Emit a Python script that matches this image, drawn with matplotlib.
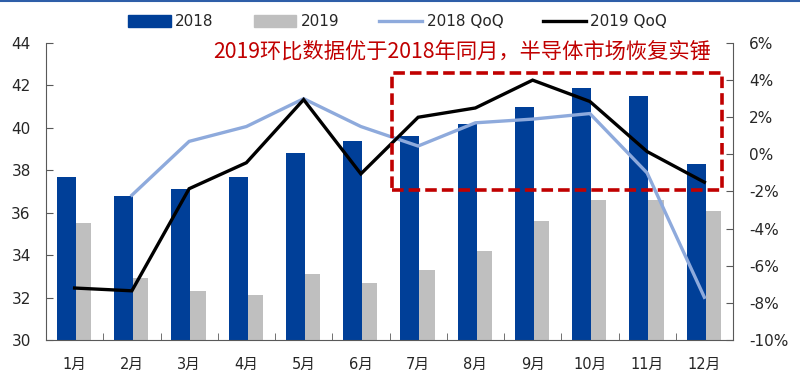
import matplotlib
matplotlib.use("Agg")
import matplotlib.pyplot as plt
import numpy as np
from matplotlib.patches import Rectangle
from matplotlib.lines import Line2D
from matplotlib.patches import Patch

plt.rcParams['font.family'] = ['DejaVu Sans', 'Noto Sans CJK SC']

months = ["1月", "2月", "3月", "4月", "5月", "6月", "7月", "8月", "9月", "10月", "11月", "12月"]
sales_2018 = [37.7, 36.8, 37.1, 37.7, 38.8, 39.4, 39.6, 40.2, 41.0, 41.9, 41.5, 38.3]
sales_2019 = [35.5, 32.9, 32.3, 32.1, 33.1, 32.7, 33.3, 34.2, 35.6, 36.6, 36.6, 36.1]
qoq_2018 = [np.nan, -2.2, 0.7, 1.5, 3.0, 1.5, 0.45, 1.7, 1.9, 2.2, -1.0, -7.7]
qoq_2019 = [-7.2, -7.35, -1.85, -0.45, 2.95, -1.05, 2.0, 2.5, 4.0, 2.85, 0.15, -1.5]
left_ticks = [30, 32, 34, 36, 38, 40, 42, 44]
right_ticks = [-10, -8, -6, -4, -2, 0, 2, 4, 6]
annotation = "2019环比数据优于2018年同月，半导体市场恢复实锤"

C_BLUE = "#003F98"
C_GRAY = "#BFBFBF"
C_LBLUE = "#8EAADC"
C_RED = "#C00000"
C_AX = "#595959"
C_TXT = "#262626"

fig = plt.figure(figsize=(8, 3.75), dpi=100)
ax = fig.add_axes([46/800, 1-340/375, (733-46)/800, (340-43)/375])
x = np.arange(len(months))

ax.bar(x - 0.31, sales_2018, width=0.33, align='edge', color=C_BLUE, zorder=2)
ax.bar(x + 0.02, sales_2019, width=0.27, align='edge', color=C_GRAY, zorder=2)
ax.set_ylim(30, 44)
ax.set_xlim(-0.5, 11.5)
ax.set_yticks(left_ticks)
ax.set_yticklabels([str(t) for t in left_ticks], fontsize=11, color=C_TXT)
ax.set_xticks(x)
ax.set_xticklabels(months, fontsize=10.5, color=C_TXT,
                   family=['DejaVu Sans', 'Noto Sans CJK SC'])
ax.set_xticks(np.arange(-0.5, 12, 1), minor=True)
ax.tick_params(axis='x', which='major', length=0, pad=12)
ax.tick_params(axis='x', which='minor', length=5, color=C_AX, direction='in')
ax.tick_params(axis='y', length=5, color=C_AX, direction='in', pad=11)
for s in ['top', 'right']:
    ax.spines[s].set_visible(False)
ax.spines['left'].set_color(C_AX)
ax.spines['bottom'].set_color(C_AX)

ax2 = ax.twinx()
ax2.plot(x, qoq_2018, color=C_LBLUE, lw=2.4, zorder=3, solid_joinstyle='miter')
ax2.plot(x, qoq_2019, color="black", lw=2.4, zorder=4, solid_joinstyle='miter')
ax2.set_ylim(-10, 6)
ax2.set_yticks(right_ticks)
ax2.set_yticklabels([f"{t}%" for t in right_ticks], fontsize=11, color=C_TXT)
ax2.tick_params(axis='y', length=5, color=C_AX, direction='in', pad=11.5)
for s in ['top', 'left', 'bottom']:
    ax2.spines[s].set_visible(False)
ax2.spines['right'].set_color(C_AX)

# red dashed highlight box (pixel coords of figure)
box = Rectangle((392/800, 1-190/375), (722-392)/800, (190-73)/375,
                transform=fig.transFigure, fill=False, edgecolor=C_RED,
                lw=2.6, linestyle=(0, (3.2, 1.4)), zorder=10)
fig.patches.append(box)

fig.text(213/800, 1-52/375, annotation, color=C_RED, fontsize=15.3,
         fontweight='normal', va='center', ha='left',
         family=['Noto Sans CJK SC', 'DejaVu Sans'])

handles = [Patch(color=C_BLUE, label="2018"),
           Patch(color=C_GRAY, label="2019"),
           Line2D([], [], color=C_LBLUE, lw=2.4, label="2018 QoQ"),
           Line2D([], [], color="black", lw=2.4, label="2019 QoQ")]
fig.legend(handles=handles, loc='center', bbox_to_anchor=(0.497, 1-22/375),
           ncol=4, frameon=False, fontsize=11, handlelength=2.8,
           handleheight=0.8, columnspacing=2.6, handletextpad=0.3,
           labelcolor=C_TXT)

# top border line
fig.add_artist(Line2D([0, 1], [0.997, 0.997], transform=fig.transFigure,
                      color="#2E5EA8", lw=1.5))

fig.savefig("out.png", dpi=100)
